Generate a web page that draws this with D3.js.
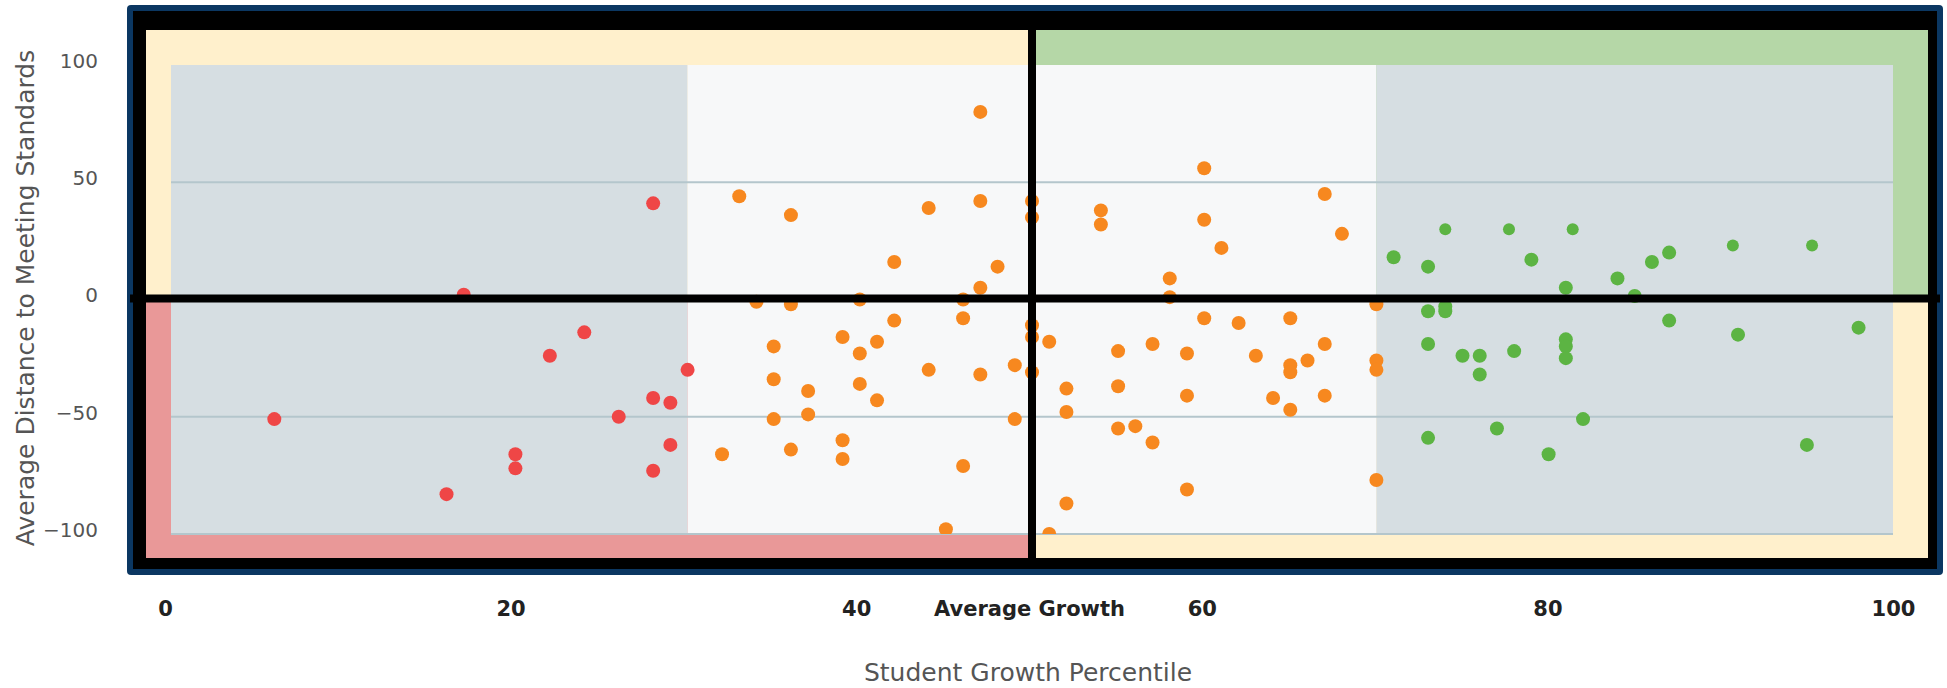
<!DOCTYPE html>
<html>
<head>
<meta charset="UTF-8">
<title>Student Growth Percentile</title>
<script src="https://cdnjs.cloudflare.com/ajax/libs/d3/7.8.5/d3.min.js"></script>
<style>
    body { margin: 0; background: #fff; }
</style>
</head>
<body>
<script>

    // schools below 30th growth percentile
    var redPoints = [
        [6, -51], [16, -83], [17, 2], [20, -66], [20, -72], [22, -24], [24, -14],
        [26, -50], [28, 41], [28, -42], [28, -73], [29, -44], [29, -62], [30, -30]
    ];

    // 30 - 70
    var orangePoints = [
        [32, -66], [33, 44], [34, -1], [35, -20], [35, -34], [35, -51], [36, 36], [36, -2],
        [36, -64], [37, -39], [37, -49], [39, -16], [39, -60], [39, -68], [40, 0], [40, -23],
        [40, -36], [41, -18], [41, -43], [42, 16], [42, -9], [44, 39], [44, -30], [45, -98],
        [46, 0], [46, -8], [46, -71], [47, 80], [47, 42], [47, 5], [47, -32], [48, 14],
        [49, -28], [49, -51], [50, 42], [50, 35], [50, -11], [50, -16], [50, -31],
        [51, -18], [51, -100], [52, -38], [52, -48], [52, -87], [54, 38], [54, 32], [55, -22],
        [55, -37], [55, -55], [56, -54], [57, -19], [57, -61], [58, 9], [58, 1], [59, -23],
        [59, -41], [59, -81], [60, 56], [60, 34], [60, -8], [61, 22], [62, -10], [63, -24],
        [64, -42], [65, -8], [65, -28], [65, -31], [65, -47], [66, -26], [67, 45], [67, -19],
        [67, -41], [68, 28], [70, -2], [70, -26], [70, -30], [70, -77]
    ];

    // above 70
    var greenPoints = [
        [71, 18], [73, 14], [73, -5], [73, -19], [73, -59], [74, -3], [74, -5], [75, -24],
        [76, -24], [76, -32], [77, -55], [78, -22], [79, 17], [80, -66], [81, 5], [81, -17],
        [81, -20], [81, -25], [82, -51], [84, 9], [85, 1.5], [86, 16], [87, 20], [87, -9],
        [91, -15], [95, -62], [98, -12]
    ];
    // the few dots drawn a bit smaller
    var greenSmallPoints = [[74, 30], [77.7, 30], [81.4, 30], [90.7, 23], [95.3, 23]];

    var xTicks = [0, 20, 40, 50, 60, 80, 100];
    var xTickLabels = ['0', '20', '40', 'Average Growth', '60', '80', '100'];
    var yTicks = [100, 50, 0, -50, -100];
    var gridValues = [50, -50, -100];
    var growthBands = [[0, 30], [30, 70], [70, 100]];

    var w = 1947,
        h = 688;

    var x = d3.scaleLinear().domain([0, 100]).range([171, 1893]);
    var y = d3.scaleLinear().domain([-100, 100]).range([534, 65]);
    // tick labels sit a little left of the plot scale
    var xLab = x.copy().range([165, 1893]);

    var svg = d3.select('body')
            .append('svg')
            .attr('width', w)
            .attr('height', h);

    // outer frame: blue edge then black
    svg.append('rect')
            .attr('x', 127).attr('y', 5)
            .attr('width', 1816).attr('height', 570)
            .attr('rx', 4)
            .attr('fill', '#0b3762');
    svg.append('rect')
            .attr('x', 133).attr('y', 11)
            .attr('width', 1804).attr('height', 558)
            .attr('fill', '#000');

    // quadrant colours (edges around the plot)
    var qLeft = 146, qRight = 1928, qTop = 30, qBottom = 558;
    var quads = [
        {x0: qLeft, x1: x(50), y0: qTop, y1: y(0), fill: '#fff0cc'},
        {x0: x(50), x1: qRight, y0: qTop, y1: y(0), fill: '#b5d7a7'},
        {x0: qLeft, x1: x(50), y0: y(0), y1: qBottom, fill: '#e99898'},
        {x0: x(50), x1: qRight, y0: y(0), y1: qBottom, fill: '#fff0cc'}
    ];
    svg.selectAll('rect.quad')
            .data(quads)
            .enter()
            .append('rect')
            .attr('class', 'quad')
            .attr('x', function(d) { return d.x0; })
            .attr('y', function(d) { return d.y0; })
            .attr('width', function(d) { return d.x1 - d.x0; })
            .attr('height', function(d) { return d.y1 - d.y0; })
            .attr('fill', function(d) { return d.fill; });

    // grey / white growth bands
    svg.selectAll('rect.band')
            .data(growthBands)
            .enter()
            .append('rect')
            .attr('class', 'band')
            .attr('x', function(d) { return x(d[0]); })
            .attr('y', y(100))
            .attr('width', function(d) { return x(d[1]) - x(d[0]); })
            .attr('height', y(-100) - y(100))
            .attr('fill', function(d, i) { return i === 1 ? '#f7f8f9' : '#d6dee2'; });

    svg.selectAll('line.grid')
            .data(gridValues)
            .enter()
            .append('line')
            .attr('class', 'grid')
            .attr('x1', x(0)).attr('x2', x(100))
            .attr('y1', function(d) { return y(d); })
            .attr('y2', function(d) { return y(d); })
            .attr('stroke', '#b4c6cc')
            .attr('stroke-width', 2);

    svg.append('clipPath')
            .attr('id', 'plotclip')
            .append('rect')
            .attr('x', x(0)).attr('y', y(100))
            .attr('width', x(100) - x(0))
            .attr('height', y(-100) - y(100));

    var dots = svg.append('g').attr('clip-path', 'url(#plotclip)');

    function drawDots(data, colour, r) {
        dots.append('g')
                .selectAll('circle')
                .data(data)
                .enter()
                .append('circle')
                .attr('cx', function(d) { return x(d[0]); })
                .attr('cy', function(d) { return y(d[1]); })
                .attr('r', r)
                .attr('fill', colour);
    }
    drawDots(redPoints, '#ef4646', 7);
    drawDots(orangePoints, '#f7881f', 7);
    drawDots(greenPoints, '#5cb443', 7);
    drawDots(greenSmallPoints, '#5cb443', 6);

    // black cross at average growth / meeting standards
    svg.append('rect')
            .attr('x', x(50) - 4).attr('y', 11)
            .attr('width', 8).attr('height', 558)
            .attr('fill', '#000');
    svg.append('rect')
            .attr('x', 130).attr('y', y(0) - 5)
            .attr('width', 1810).attr('height', 8)
            .attr('fill', '#000');

    // axes
    var xAxis = d3.axisBottom(xLab)
            .tickValues(xTicks)
            .tickFormat(function(d, i) { return xTickLabels[i]; })
            .tickSize(0)
            .tickPadding(0);
    var gx = svg.append('g')
            .attr('transform', 'translate(0,601)')
            .call(xAxis);
    gx.select('.domain').remove();
    gx.selectAll('text')
            .attr('font-family', 'DejaVu Sans, Verdana, sans-serif')
            .attr('font-weight', 'bold')
            .attr('font-size', '21px')
            .attr('fill', '#222');

    var yAxis = d3.axisLeft(y)
            .tickValues(yTicks)
            .tickSize(0)
            .tickPadding(0);
    var gy = svg.append('g')
            .attr('transform', 'translate(98,-4)')
            .call(yAxis);
    gy.select('.domain').remove();
    gy.selectAll('text')
            .attr('font-family', 'DejaVu Sans, Verdana, sans-serif')
            .attr('font-size', '20px')
            .attr('fill', '#555');

    svg.append('text')
            .attr('x', 1028)
            .attr('y', 672)
            .attr('dy', '0.35em')
            .attr('text-anchor', 'middle')
            .attr('font-family', 'DejaVu Sans, Verdana, sans-serif')
            .attr('font-size', '25px')
            .attr('fill', '#555')
            .text('Student Growth Percentile');

    svg.append('text')
            .attr('transform', 'translate(25,298) rotate(-90)')
            .attr('dy', '0.35em')
            .attr('text-anchor', 'middle')
            .attr('font-family', 'DejaVu Sans, Verdana, sans-serif')
            .attr('font-size', '25px')
            .attr('fill', '#555')
            .text('Average Distance to Meeting Standards');

</script>
</body>
</html>
